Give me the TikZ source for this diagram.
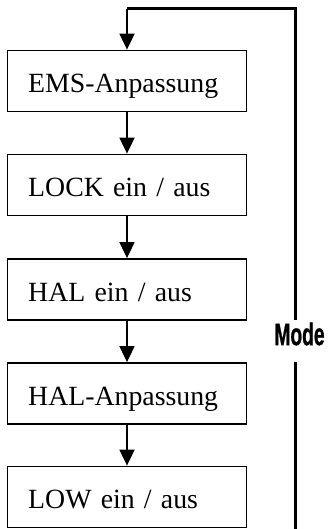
\documentclass[tikz,border=0pt]{standalone}
\usepackage{fontspec}
\setmainfont{Liberation Serif}
\newfontfamily\modefont[BoldFeatures={FakeBold=1.2}]{Liberation Sans}
\usetikzlibrary{arrows.meta}
\begin{document}
\begin{tikzpicture}[x=1pt,y=-1pt,
  box/.style={draw=black,line width=1.8pt,minimum width=239pt,minimum height=61pt,
    inner xsep=20.7pt,text width=197.6pt,align=left,text height=23pt,text depth=0pt,
    font=\fontsize{27.8}{30}\selectfont},
  flow/.style={line width=1.8pt,-{Triangle[length=16pt,width=15pt]}},
  loopline/.style={line width=3pt}]
\useasboundingbox (0,0) rectangle (327,529);
\node[box] (b1) at (127,81) {EMS-Anpassung};
\node[box] (b2) at (127,185) {LOCK ein / aus};
\node[box] (b3) at (127,289.5) {HAL ein / aus};
\node[box] (b4) at (127,393.5) {HAL-Anpassung};
\node[box] (b5) at (127,497) {LOW ein / aus};
\draw[flow] (b1) -- (b2);
\draw[flow] (b2) -- (b3);
\draw[flow] (b3) -- (b4);
\draw[flow] (b4) -- (b5);
\node[inner sep=0pt] (mode) at (299.5,334)
  {\scalebox{0.62}[1]{\modefont\bfseries\fontsize{31}{31}\selectfont Mode}};
\coordinate (bot) at (295.5,529);
\coordinate (gapbot) at (295.5,362);
\coordinate (gaptop) at (295.5,320);
\coordinate (top) at (295.5,8.5);
\draw[loopline] (bot) -- (gapbot);
\draw[loopline] (gaptop) -- (top) -- (b1.north |- top);
\draw[flow] ([yshift=-1pt]b1.north |- top) -- (b1.north);
\end{tikzpicture}
\end{document}
